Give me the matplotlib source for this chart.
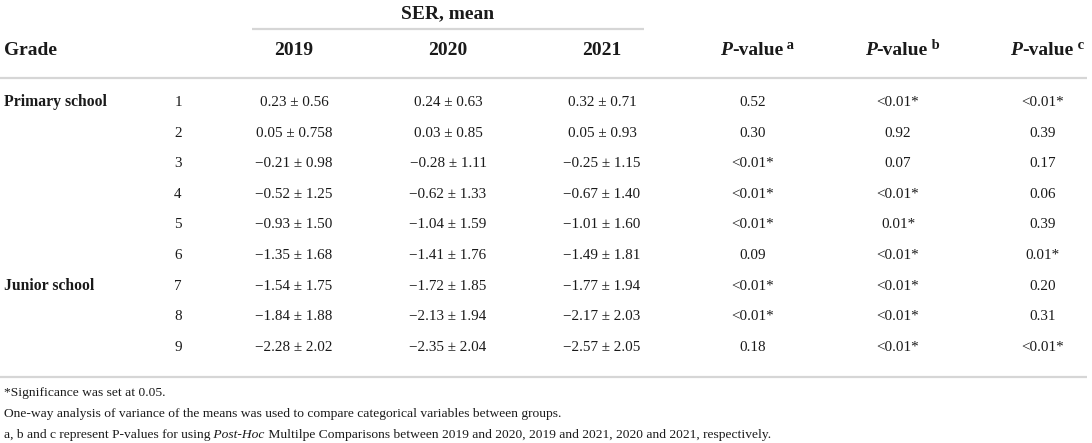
import matplotlib
matplotlib.use('Agg')
import matplotlib.pyplot as plt

# table data
grades = ['1', '2', '3', '4', '5', '6', '7', '8', '9']
groups = {0: 'Primary school', 6: 'Junior school'}
years = ['2019', '2020', '2021']
ser_2019 = ['0.23 ± 0.56', '0.05 ± 0.758', '−0.21 ± 0.98', '−0.52 ± 1.25', '−0.93 ± 1.50',
            '−1.35 ± 1.68', '−1.54 ± 1.75', '−1.84 ± 1.88', '−2.28 ± 2.02']
ser_2020 = ['0.24 ± 0.63', '0.03 ± 0.85', '−0.28 ± 1.11', '−0.62 ± 1.33', '−1.04 ± 1.59',
            '−1.41 ± 1.76', '−1.72 ± 1.85', '−2.13 ± 1.94', '−2.35 ± 2.04']
ser_2021 = ['0.32 ± 0.71', '0.05 ± 0.93', '−0.25 ± 1.15', '−0.67 ± 1.40', '−1.01 ± 1.60',
            '−1.49 ± 1.81', '−1.77 ± 1.94', '−2.17 ± 2.03', '−2.57 ± 2.05']
p_a = ['0.52', '0.30', '<0.01*', '<0.01*', '<0.01*', '0.09', '<0.01*', '<0.01*', '0.18']
p_b = ['<0.01*', '0.92', '0.07', '<0.01*', '0.01*', '<0.01*', '<0.01*', '<0.01*', '<0.01*']
p_c = ['<0.01*', '0.39', '0.17', '0.06', '0.39', '0.01*', '0.20', '0.31', '<0.01*']
p_marks = ['a', 'b', 'c']

W, H = 1092, 443
FONT = 'Liberation Serif'
INK = '#1a1a1a'
RULE = '#d6d6d6'
HEAD = 14
BODY = 10.9
NOTE = 9.7

fig = plt.figure(figsize=(W / 100, H / 100), dpi=100)
ax = fig.add_axes([0, 0, 1, 1])
ax.set_xlim(0, W)
ax.set_ylim(H, 0)
ax.axis('off')
renderer = fig.canvas.get_renderer()


def runs(x, y, parts, ha='center'):
    # draw a sequence of differently styled pieces of text side by side
    items = []
    for s, kw in parts:
        kw = dict(kw)
        dy = kw.pop('dy', 0)
        t = ax.text(0, 0, s, family=FONT, color=INK, va='baseline', ha='left', **kw)
        w = t.get_window_extent(renderer).width
        items.append((t, w, dy))
    total = sum(w for _, w, _ in items)
    cx = x - total / 2 if ha == 'center' else x
    for t, w, dy in items:
        t.set_position((cx, y + dy))
        cx += w


# column positions (pixels)
x_grade = 178
x_years = [294, 448, 602]
x_p = [753, 898, 1043]

# header
ax.text(448, 18, 'SER, mean', family=FONT, color=INK, fontsize=HEAD, fontweight='bold',
        ha='center', va='baseline')
ax.plot([252, 644], [29, 29], color=RULE, lw=1.6, solid_capstyle='butt')
ax.text(4, 55, 'Grade', family=FONT, color=INK, fontsize=HEAD, fontweight='bold',
        ha='left', va='baseline')
for x, yr in zip(x_years, years):
    ax.text(x, 55, yr, family=FONT, color=INK, fontsize=HEAD, fontweight='bold',
            ha='center', va='baseline')
for x, m in zip(x_p, p_marks):
    runs(x + 4, 55, [('P', dict(fontsize=HEAD, fontweight='bold', style='italic')),
                     ('-value', dict(fontsize=HEAD, fontweight='bold')),
                     (' ' + m, dict(fontsize=10.5, fontweight='bold', dy=-6))])
ax.plot([0, 1087], [78, 78], color=RULE, lw=1.6, solid_capstyle='butt')

# body
y0, dy = 106, 30.6
for i, g in enumerate(grades):
    y = y0 + i * dy
    if i in groups:
        ax.text(4, y, groups[i], family=FONT, color=INK, fontsize=11.3, fontweight='bold',
                ha='left', va='baseline')
    ax.text(x_grade, y, g, family=FONT, color=INK, fontsize=BODY, ha='center', va='baseline')
    for x, col in zip(x_years, [ser_2019, ser_2020, ser_2021]):
        ax.text(x, y, col[i], family=FONT, color=INK, fontsize=BODY, ha='center', va='baseline')
    for x, col in zip(x_p, [p_a, p_b, p_c]):
        ax.text(x, y, col[i], family=FONT, color=INK, fontsize=BODY, ha='center', va='baseline')
ax.plot([0, 1087], [377, 377], color=RULE, lw=1.6, solid_capstyle='butt')

# footnotes
fn = dict(fontsize=NOTE)
ax.text(4, 396, '*Significance was set at 0.05.', family=FONT, color=INK, ha='left',
        va='baseline', **fn)
ax.text(4, 417, 'One-way analysis of variance of the means was used to compare categorical '
        'variables between groups.', family=FONT, color=INK, ha='left', va='baseline', **fn)
runs(4, 438, [('a, b and c represent P-values for using', dict(fn)),
              (' Post-Hoc', dict(fn, style='italic')),
              (' Multilpe Comparisons between 2019 and 2020, 2019 and 2021, 2020 and 2021, '
               'respectively.', dict(fn))], ha='left')

fig.savefig('out.png', dpi=100)
plt.close(fig)
